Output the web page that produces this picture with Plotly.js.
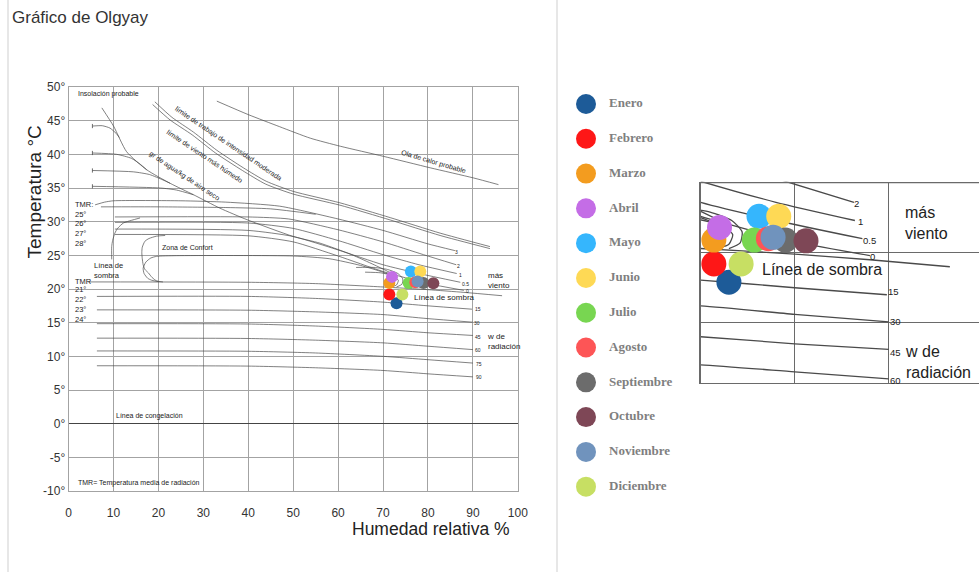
<!DOCTYPE html>
<html><head><meta charset="utf-8">
<script src="https://cdn.plot.ly/plotly-3.0.1.min.js"></script>
<style>html,body{margin:0;padding:0;background:#fff}#chart{width:979px;height:572px}</style>
</head><body><div id="chart"></div>
<script>
// ---- Datos mensuales (humedad relativa %, temperatura °C) ----
const meses = ['Enero','Febrero','Marzo','Abril','Mayo','Junio','Julio','Agosto','Septiembre','Octubre','Noviembre','Diciembre'];
const humedad = [73.0, 71.4, 71.4, 72.0, 76.2, 78.3, 75.7, 77.2, 79.0, 81.2, 77.7, 74.3];
const temperatura = [17.9, 19.2, 20.9, 21.8, 22.6, 22.6, 20.9, 21.0, 20.9, 20.85, 21.1, 19.2];
const colores = ['#1d5b98','#fe1717','#f39c1f','#c46de6','#35b6fd','#fed955','#78d651','#fd5556','#6c6c6c','#7e4756','#7093bd','#c7df63'];

// ---- Ejes ----
const xTicks = [0,10,20,30,40,50,60,70,80,90,100];
const yTicks = [-10,-5,0,5,10,15,20,25,30,35,40,45,50];
const yTickText = yTicks.map(v => v + '°');

// ---- Curvas del diagrama de Olgyay [humedad, temperatura] ----
const olaCalor = [[33,47.9],[40,45.9],[47,44.1],[53.8,42.4],[60.5,41.2],[70.1,39.7],[80.5,38.0],[90.1,36.5],[95.7,35.5]];
const limiteTrabajoA = [[19.2,47.8],[23,45.5],[27.8,43.3],[33,40.6],[38.9,38.0],[44,36.0],[50,34.5],[60.4,32.8],[71.6,30.6],[82.7,28.3],[93.8,26.3]];
const limiteTrabajoB = [[18.7,47.4],[22.6,45.1],[27.5,42.9],[32.7,40.2],[38.7,37.6],[43.8,35.6],[50,34.1],[60.4,32.45],[71.6,30.25],[82.7,27.95],[93.8,26.0]];
const aguaSeco = [[7.4,46.9],[10,44.2],[12.9,40.4],[17.4,37.7],[22.6,35.7],[27.8,34.0],[33.7,32.0],[39.7,30.3],[50,27.8],[56,26.8],[63,25.1],[68,23.6],[72,22.3]];
const humedad1 = [[5.3,44.2],[7.5,44.25],[9.2,43.9],[10.6,43.1],[11.3,42.5]];
const humedad2 = [[5.3,40.2],[10.7,40.0],[14,39.4],[16,38.5],[17.4,37.7]];
const humedad3 = [[5.3,37.6],[14.4,37.4],[18,37.0],[21,36.2],[22.6,35.7]];
const humedad4 = [[5.3,35.25],[20.4,35.0],[24,34.7],[27.8,34.0]];
const viento3 = [[5.9,32.5],[8,32.9],[10,33.1],[25,33.1],[35,32.9],[47,32.3],[60,30.4],[70,28.7],[80,26.7],[86,25.7]];
const tmrSuperior = [[7.2,32.2],[20,32.2],[35,32.1],[45,31.9],[55,31.1]];
const viento2 = [[10.3,30.7],[40,30.7],[49,30.4],[60,28.8],[70,27.0],[79,25.1],[86.3,23.6]];
const viento1 = [[10.3,29.9],[40,29.8],[50,29.0],[60,27.2],[70,25.1],[78,23.6],[86.4,22.3]];
const viento05 = [[10.3,28.9],[40,28.7],[50,27.8],[60,25.8],[70,23.6],[78,22.3],[87.2,21.0]];
const viento0 = [[10.3,28.1],[40,27.9],[50,27.0],[60,24.9],[70,22.6],[80,20.8],[88,19.8]];
const lineaSombra = [[4.4,21.05],[40,21.0],[55,20.8],[70,20.3],[80,19.9],[88,19.5],[96.5,19.0]];
const sombraIzq = [[15.9,30.55],[14,30.2],[12.2,29.8],[10.9,29.0],[10.3,28.3],[9.8,27.2],[9.6,26.3],[9.6,24.4]];
const confortExt = [[21.5,27.95],[19.6,27.85],[17.9,27.5],[17.0,27.1],[16.4,26.2],[16.3,25.4],[16.4,24.5],[16.6,23.6],[17.0,22.9],[17.75,22.4],[18.6,21.7],[19.6,21.2],[21,21.05]];
const confortInt = [[20,21.1],[18.5,21.3],[17.6,21.6],[16.8,22.3],[16.6,23.1],[17.2,24.0],[18.3,24.6],[19.6,24.85],[24,24.95],[50,24.9],[58,24.5],[65,23.5],[70,22.5],[73,21.7]];
const bucleExt = [[64,23.2],[68,23.2],[71,22.9],[73.3,22.3],[74.4,21.5],[74.2,20.7],[73,20.3]];
const bucleInt = [[66,22.5],[69.5,22.4],[72,22.0],[73.4,21.3],[73,20.6],[72,20.35]];
const rad15 = [[6.3,18.9],[40,18.9],[55,18.6],[70,18.05],[80,17.5],[89.8,17.0]];
const rad30 = [[6.3,16.9],[40,16.85],[55,16.6],[70,16.2],[80,15.6],[90,15.07]];
const rad45 = [[6.3,14.85],[40,14.8],[55,14.5],[70,14.0],[80,13.5],[90,13.1]];
const rad60 = [[6.3,12.7],[40,12.65],[55,12.4],[70,12.0],[80,11.5],[90,11.0]];
const rad75 = [[6.3,10.8],[40,10.75],[55,10.5],[70,10.0],[80,9.5],[90,9.0]];
const rad90 = [[6.3,8.6],[40,8.55],[55,8.3],[70,7.9],[80,7.4],[90,6.95]];

const curvas = [olaCalor, limiteTrabajoA, limiteTrabajoB, aguaSeco, humedad1, humedad2, humedad3, humedad4,
  viento3, tmrSuperior, viento2, viento1, viento05, viento0, lineaSombra, sombraIzq, confortExt, confortInt,
  bucleExt, bucleInt, rad15, rad30, rad45, rad60, rad75, rad90];
const extremosHumedad = [humedad1, humedad2, humedad3, humedad4];

// ---- Textos del diagrama ----
const textosDiagrama = [
  ['Insolación probable', 1.6, 48.9, 0, 'left', 7],
  ['límite de trabajo de intensidad moderada', 35.6, 41.6, 34, 'center', 7],
  ['límite de viento más húmedo', 30.4, 39.7, 33.7, 'center', 7],
  ['gr de agua/kg de aire seco', 25.7, 36.8, 33.7, 'center', 7],
  ['Ola de calor probable', 81.2, 38.9, 16.5, 'center', 7],
  ['Zona de Confort', 20.4, 26.2, 0, 'left', 7],
  ['Línea de<br>sombra', 5.2, 22.7, 0, 'left', 7.5],
  ['TMR:', 1.0, 32.5, 0, 'left', 7.5],
  ['25°', 1.0, 31.0, 0, 'left', 7.5],
  ['26°', 1.0, 29.8, 0, 'left', 7.5],
  ['27°', 1.0, 28.3, 0, 'left', 7.5],
  ['28°', 1.0, 26.8, 0, 'left', 7.5],
  ['TMR', 1.0, 21.1, 0, 'left', 7.5],
  ['21°', 1.0, 19.9, 0, 'left', 7.5],
  ['22°', 1.0, 18.4, 0, 'left', 7.5],
  ['23°', 1.0, 16.9, 0, 'left', 7.5],
  ['24°', 1.0, 15.45, 0, 'left', 7.5],
  ['Línea de congelación', 10.2, 1.1, 0, 'left', 7],
  ['TMR= Temperatura media de radiación', 1.7, -8.75, 0, 'left', 7],
  ['3', 86.4, 25.5, 0, 'center', 5],
  ['2', 86.8, 23.4, 0, 'center', 5],
  ['1', 87.2, 22.1, 0, 'center', 5],
  ['0.5', 88.3, 20.8, 0, 'center', 5],
  ['0', 88.7, 19.75, 0, 'center', 5],
  ['15', 91.2, 17.0, 0, 'center', 5],
  ['30', 91.0, 15.0, 0, 'center', 5],
  ['45', 91.2, 12.9, 0, 'center', 5],
  ['60', 91.2, 10.9, 0, 'center', 5],
  ['75', 91.3, 8.9, 0, 'center', 5],
  ['90', 91.3, 6.9, 0, 'center', 5],
  ['más<br>viento', 93.0, 21.3, 0, 'left', 8],
  ['w de<br>radiación', 92.6, 12.2, 0, 'left', 8],
  ['Línea de sombra', 76.4, 18.7, 0, 'left', 8]
];
const textosDetalle = [
  ['2', 86.6, 23.5, 'center', 9.5],
  ['1', 86.95, 22.2, 'center', 9.5],
  ['0.5', 88.0, 20.9, 'center', 9.5],
  ['0', 88.3, 19.7, 'center', 9.5],
  ['15', 90.5, 17.2, 'center', 9.5],
  ['30', 90.7, 15.1, 'center', 9.5],
  ['45', 90.7, 12.9, 'center', 9.5],
  ['60', 90.7, 10.85, 'center', 9.5],
  ['más<br>viento', 91.55, 22.1, 'left', 16],
  ['w de<br>radiación', 91.55, 12.2, 'left', 16],
  ['Línea de sombra', 76.3, 18.8, 'left', 16]
];

// ---- Construcción ----
const W = 979, H = 572;
const FONT = 'Liberation Sans, Arial, sans-serif';
const traces = [];
function addCurves(xa, ya, width) {
  curvas.forEach(c => traces.push({
    type: 'scatter', mode: 'lines', x: c.map(p => p[0]), y: c.map(p => p[1]),
    xaxis: xa, yaxis: ya, line: {color: '#4a4a4a', width: width, shape: 'spline', smoothing: 0.6},
    hoverinfo: 'skip', showlegend: false
  }));
}
addCurves('x', 'y', 0.7);
addCurves('x2', 'y2', 1.3);
traces.push({type:'scatter', mode:'markers', x: extremosHumedad.map(c => c[0][0]), y: extremosHumedad.map(c => c[0][1]),
  xaxis:'x', yaxis:'y', marker:{symbol:'line-ns', size:3, line:{width:0.8, color:'#4a4a4a'}}, hoverinfo:'skip', showlegend:false});
meses.forEach((m, i) => {
  traces.push({type:'scatter', mode:'markers', x:[humedad[i]], y:[temperatura[i]], xaxis:'x', yaxis:'y',
    marker:{color: colores[i], size: 12, line:{width:0}}, name:m, showlegend:false, hoverinfo:'skip'});
});
meses.forEach((m, i) => {
  traces.push({type:'scatter', mode:'markers', x:[humedad[i]], y:[temperatura[i]], xaxis:'x2', yaxis:'y2',
    marker:{color: colores[i], size: 25, line:{width:0}}, name:m, showlegend:false, hoverinfo:'skip'});
});
// leyenda
const idx = meses.map((m, i) => i);
traces.push({type:'scatter', mode:'markers', x: idx.map(() => 26), y: idx, xaxis:'x3', yaxis:'y3',
  marker:{color: colores, size: 20, line:{width:0}}, showlegend:false, hoverinfo:'skip', cliponaxis:false});
traces.push({type:'scatter', mode:'text', x: idx.map(() => 49), y: idx, text: meses, textposition:'middle right',
  xaxis:'x3', yaxis:'y3', textfont:{family:'Liberation Serif, Times New Roman, serif', size:13, color:'#7f7f7f', weight:'bold'},
  showlegend:false, hoverinfo:'skip', cliponaxis:false});

const annotations = [];
textosDiagrama.forEach(t => annotations.push({text:t[0], x:t[1], y:t[2], xref:'x', yref:'y', textangle:t[3],
  xanchor:t[4], yanchor:'middle', align:'left', showarrow:false, font:{family:FONT, size:t[5], color:'#222'}}));
textosDetalle.forEach(t => annotations.push({text:t[0], x:t[1], y:t[2], xref:'x2', yref:'y2',
  xanchor:t[3], yanchor:'middle', align:'left', showarrow:false, font:{family:FONT, size:t[4], color:'#222'}}));
annotations.push({text:'Temperatura °C', xref:'paper', yref:'paper', x:22/W, y:1-192/H, textangle:-90,
  showarrow:false, font:{family:FONT, size:19, color:'#222'}});
annotations.push({text:'Humedad relativa %', xref:'paper', yref:'paper', x:431/W, y:1-541/H,
  showarrow:false, font:{family:FONT, size:17.5, color:'#222'}});

const layout = {
  width: W, height: H, margin:{l:0, r:0, t:0, b:0}, paper_bgcolor:'#fff', plot_bgcolor:'rgba(0,0,0,0)',
  showlegend:false,
  title:{text:'Gráfico de Olgyay', x:12/W, xanchor:'left', y:1-17/H, yanchor:'middle', xref:'container', yref:'container',
    font:{family:FONT, size:17, color:'#333'}},
  xaxis:{domain:[68.6/W, 517.8/W], range:[0,100], tickvals:xTicks, showgrid:true, gridcolor:'#a3a3a3', gridwidth:1,
    zeroline:false, showline:true, mirror:true, linecolor:'#a3a3a3', ticks:'', tickfont:{family:FONT, size:12, color:'#333'},
    ticklabelstandoff:11, fixedrange:true},
  yaxis:{domain:[1-491/H, 1-87/H], range:[-10,50], tickvals:yTicks, ticktext:yTickText, showgrid:true, gridcolor:'#a3a3a3',
    zeroline:true, zerolinecolor:'#444', zerolinewidth:1, showline:true, mirror:true, linecolor:'#a3a3a3', ticks:'',
    tickfont:{family:FONT, size:12, color:'#333'}, ticklabelstandoff:0, fixedrange:true},
  xaxis2:{domain:[700.7/W, 1], range:[70, 99.6], tickvals:[70,80,90], showticklabels:false, showgrid:true, gridcolor:'#6a6a6a',
    gridwidth:1.3, zeroline:false, showline:true, linecolor:'#6a6a6a', linewidth:1.3, anchor:'y2', ticks:'', fixedrange:true},
  yaxis2:{domain:[1-383/H, 1-181.7/H], range:[10.7, 25.07], tickvals:[15,20], showticklabels:false, showgrid:true,
    gridcolor:'#6a6a6a', gridwidth:1.3, zeroline:false, showline:true, linecolor:'#6a6a6a', linewidth:1.3, anchor:'x2', ticks:'', fixedrange:true},
  xaxis3:{domain:[560/W, 700/W], range:[0,140], visible:false, anchor:'y3', fixedrange:true},
  yaxis3:{domain:[1-510/H, 1-80/H], range:[11.67,-0.69], visible:false, anchor:'x3', fixedrange:true},
  annotations: annotations,
  shapes:[
    {type:'line', xref:'paper', yref:'paper', x0:8/W, x1:8/W, y0:0, y1:1, line:{color:'#cfcfcf', width:1}},
    {type:'line', xref:'paper', yref:'paper', x0:557/W, x1:557/W, y0:0, y1:1, line:{color:'#cfcfcf', width:1}},
    {type:'line', xref:'x2 domain', yref:'y2', x0:0, x1:1, y0:25, y1:25, line:{color:'#6a6a6a', width:1.3}}
  ]
};
Plotly.newPlot('chart', traces, layout, {displayModeBar:false, staticPlot:true});
</script></body></html>
